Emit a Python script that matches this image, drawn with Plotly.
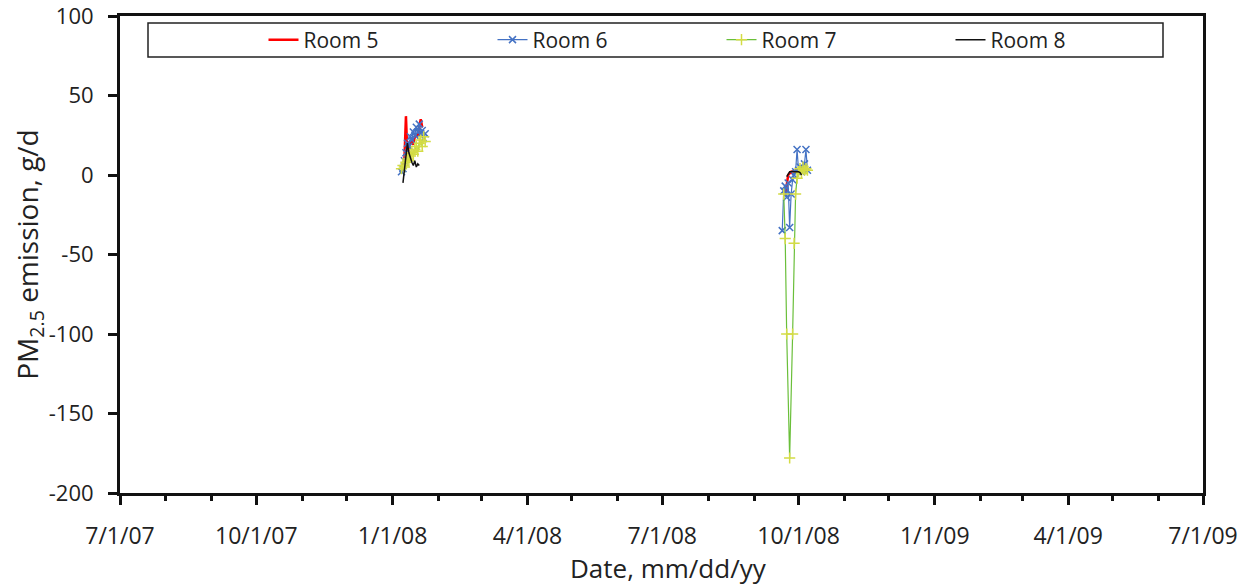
import plotly.graph_objects as go

# ---- data (None separates the two measurement campaigns) ----
dates_5 = ["2008-01-08","2008-01-09","2008-01-10","2008-01-11","2008-01-12","2008-01-13","2008-01-14",
           "2008-01-15","2008-01-16","2008-01-17","2008-01-18","2008-01-19","2008-01-20","2008-01-21",
           "2008-05-01",
           "2008-09-22","2008-09-23","2008-09-24","2008-09-25","2008-09-26","2008-09-27","2008-09-28",
           "2008-09-29","2008-09-30","2008-10-01","2008-10-02","2008-10-03"]
pm_5 = [6, 10, 37, 12, 18, 20, 22, 19, 24, 26, 24, 30, 35, 30,
        None,
        -13, -5, 0, 1, 2, 1, 2, 3, 2, 1, 3, 2]

dates_6 = ["2008-01-07","2008-01-08","2008-01-09","2008-01-10","2008-01-11","2008-01-12","2008-01-13",
           "2008-01-14","2008-01-15","2008-01-16","2008-01-17","2008-01-18","2008-01-19","2008-01-20",
           "2008-01-21","2008-01-22","2008-01-23",
           "2008-05-01",
           "2008-09-20","2008-09-21","2008-09-22","2008-09-23","2008-09-24","2008-09-25","2008-09-26",
           "2008-09-27","2008-09-28","2008-09-29","2008-09-30","2008-10-01","2008-10-02","2008-10-03",
           "2008-10-04","2008-10-05","2008-10-06","2008-10-07"]
pm_6 = [2, 4, 9, 14, 20, 18, 24, 22, 27, 25, 30, 27, 32, 26, 28, 23, 26,
        None,
        -35, -10, -7, -14, -5, -33, -12, -3, 0, 2, 16, 3, 5, 2, 4, 7, 16, 3]

dates_7 = ["2008-01-07","2008-01-08","2008-01-09","2008-01-10","2008-01-11","2008-01-12","2008-01-13",
           "2008-01-14","2008-01-15","2008-01-16","2008-01-17","2008-01-18","2008-01-19","2008-01-20",
           "2008-01-21","2008-01-22","2008-01-23",
           "2008-05-01",
           "2008-09-21","2008-09-22","2008-09-23","2008-09-25","2008-09-27","2008-09-28","2008-09-29",
           "2008-09-30","2008-10-01","2008-10-02","2008-10-03","2008-10-04","2008-10-05","2008-10-06",
           "2008-10-07"]
pm_7 = [4, 6, 5, 8, 10, 9, 12, 14, 13, 16, 18, 15, 20, 22, 18, 24, 21,
        None,
        -12, -40, -100, -178, -100, -43, -12, -2, 2, 4, 1, 5, 3, 4, 3]

dates_8 = ["2008-01-08","2008-01-09","2008-01-10","2008-01-11","2008-01-12","2008-01-13","2008-01-14",
           "2008-01-15","2008-01-16","2008-01-17","2008-01-18","2008-01-19",
           "2008-05-01",
           "2008-09-23","2008-09-24","2008-09-25","2008-09-26","2008-09-27","2008-09-28","2008-09-29",
           "2008-09-30","2008-10-01","2008-10-02","2008-10-03"]
pm_8 = [-5, 3, 12, 20, 14, 10, 8, 6, 9, 5, 7, 6,
        None,
        -1, 1, 2, 2, 2.5, 2, 2, 2, 2, 1.5, 0]

y_tick_vals = [100, 50, 0, -50, -100, -150, -200]
y_tick_text = ["100", "50", "0", "-50", "-100", "-150", "-200"]

FONT = "Open Sans"
INK = "#222222"

# page body has an 8px margin: figure coords = page coords - 8
W, H = 1239, 577
L, T, R, B = 112, 8, 1195, 485   # plot area edges in figure px
PW, PH = R - L, B - T

def px(xp):  # page x -> paper
    return (xp - 8 - L) / PW

def py(yp):  # page y -> paper
    return (B - (yp - 8)) / PH

fig = go.Figure()
fig.add_trace(go.Scatter(x=dates_5, y=pm_5, name="Room 5", mode="lines",
                         line=dict(color="#FF0000", width=2.5)))
fig.add_trace(go.Scatter(x=dates_6, y=pm_6, name="Room 6", mode="lines+markers",
                         line=dict(color="#4472C4", width=1.2),
                         marker=dict(symbol="x-thin", size=7,
                                     line=dict(color="#4472C4", width=1.5))))
fig.add_trace(go.Scatter(x=dates_7, y=pm_7, name="Room 7", mode="lines+markers",
                         line=dict(color="#6ABF3A", width=1.2),
                         marker=dict(symbol="cross-thin", size=8,
                                     line=dict(color="#D4DC45", width=1.5))))
fig.add_trace(go.Scatter(x=dates_8, y=pm_8, name="Room 8", mode="lines",
                         line=dict(color="#111111", width=1.5)))

fig.update_layout(
    width=W, height=H,
    margin=dict(l=L, r=W - R, t=T, b=H - B, autoexpand=False),
    paper_bgcolor="white", plot_bgcolor="white",
    font=dict(family=FONT, size=22, color=INK),
    showlegend=True,
    legend=dict(orientation="h", x=px(263.5), xanchor="left", y=py(40), yanchor="middle",
                entrywidth=184, entrywidthmode="pixels",
                bgcolor="rgba(0,0,0,0)", borderwidth=0,
                font=dict(family=FONT, size=21, color=INK)),
    shapes=[dict(type="rect", xref="paper", yref="paper",
                 x0=px(148), x1=px(1163), y0=py(57), y1=py(23),
                 line=dict(color="#222222", width=1.5), fillcolor="rgba(0,0,0,0)", layer="below")],
    annotations=[dict(text="Date, mm/dd/yy", xref="paper", yref="paper",
                      x=px(568), y=py(568), xanchor="left", yanchor="middle",
                      showarrow=False, font=dict(family=FONT, size=26, color=INK))],
)

fig.update_xaxes(
    type="date", range=["2007-07-01", "2009-07-01"],
    tick0="2007-07-01", dtick="M3", tickformat="%-m/%-d/%y",
    ticks="outside", ticklen=9, tickwidth=3, tickcolor="#111111",
    minor=dict(dtick="M1", ticks="outside", ticklen=5, tickwidth=3, tickcolor="#111111"),
    showline=True, linewidth=3, linecolor="#111111", mirror=True,
    showgrid=False, zeroline=False, ticklabelstandoff=11, automargin=False,
    ticklabeloverflow="allow",
    tickfont=dict(family=FONT, size=23, color=INK),
)
fig.update_yaxes(
    range=[-200, 100], tickvals=y_tick_vals, ticktext=y_tick_text,
    ticks="outside", ticklen=9, tickwidth=3, tickcolor="#111111",
    showline=True, linewidth=3, linecolor="#111111", mirror=True,
    showgrid=False, zeroline=False, automargin=False, ticklabelstandoff=10,
    ticklabeloverflow="allow",
    tickfont=dict(family=FONT, size=22, color=INK),
    title=dict(text="PM<sub>2.5</sub> emission, g/d", standoff=8,
               font=dict(family=FONT, size=28, color=INK)),
)

fig.write_html("out.html")
